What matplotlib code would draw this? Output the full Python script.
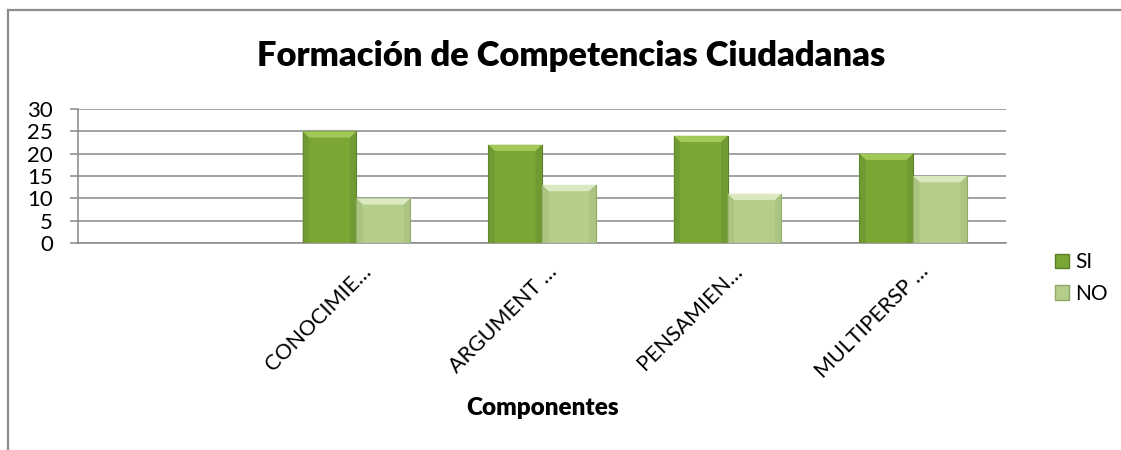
import numpy as np
import matplotlib
matplotlib.use("Agg")
import matplotlib.pyplot as plt
import matplotlib.transforms as mtransforms
from matplotlib.patches import Polygon, Patch
from matplotlib.lines import Line2D

# Datos
categorias = ["", "CONOCIMIE…", "ARGUMENT …", "PENSAMIEN…", "MULTIPERSP …"]
si = [np.nan, 25, 22, 24, 20]
no = [np.nan, 10, 13, 11, 15]
y_ticks = [0, 5, 10, 15, 20, 25, 30]

plt.rcParams['font.family'] = ['Lato', 'DejaVu Sans']

fig = plt.figure(figsize=(11.21, 4.5), dpi=100)
ax = fig.add_axes([78 / 1121, 1 - 243 / 450, 928 / 1121, 134 / 450])

x = np.arange(len(categorias))
w = 0.29
bars_si = ax.bar(x - w / 2, si, w, color="#7ba636", edgecolor="#5a7d27", linewidth=0.8, zorder=3)
bars_no = ax.bar(x + w / 2, no, w, color="#b4cd8a", edgecolor="#8fa868", linewidth=0.8, zorder=3)

# efecto bisel (solo decorativo)
bx, by = 0.035, 1.4
def bisel(rect, top, side):
    x0, y0 = rect.get_x(), rect.get_y()
    x1, y1 = x0 + rect.get_width(), y0 + rect.get_height()
    if np.isnan(y1):
        return
    ax.add_patch(Polygon([[x0, y1], [x1, y1], [x1 - bx, y1 - by], [x0 + bx, y1 - by]],
                         facecolor=top, edgecolor="none", zorder=4))
    ax.add_patch(Polygon([[x0, y0], [x0, y1], [x0 + bx, y1 - by], [x0 + bx, y0]],
                         facecolor=side, edgecolor="none", zorder=4, alpha=0.6))
    ax.add_patch(Polygon([[x1, y0], [x1, y1], [x1 - bx, y1 - by], [x1 - bx, y0]],
                         facecolor=side, edgecolor="none", zorder=4, alpha=0.6))

for r in bars_si:
    bisel(r, "#a2c857", "#6a9330")
for r in bars_no:
    bisel(r, "#dbe9c0", "#a5bf7d")

ax.set_xlim(-0.5, len(categorias) - 0.5)
ax.set_ylim(0, 30)
ax.set_yticks(y_ticks)
ax.yaxis.grid(True, color="#878787", linewidth=1.1, zorder=0)
ax.set_axisbelow(True)
for s in ["top", "right"]:
    ax.spines[s].set_visible(False)
ax.spines["left"].set_color("#878787")
ax.spines["bottom"].set_color("#878787")
ax.spines["left"].set_linewidth(1.1)
ax.spines["bottom"].set_linewidth(1.1)
ax.tick_params(axis="y", length=6, color="#878787", width=1.1, labelsize=16, pad=12)
ax.tick_params(axis="x", length=0, labelsize=15.5, pad=4)
ax.set_xticks(x[1:])
ax.set_xticklabels(categorias[1:], rotation=45, ha="right", rotation_mode="anchor")
desp = mtransforms.ScaledTranslation(0.05, -0.13, fig.dpi_scale_trans)
for lab in ax.get_xticklabels():
    lab.set_transform(lab.get_transform() + desp)

fig.text(571 / 1121, 1 - 56 / 450, "Formación de Competencias Ciudadanas",
         ha="center", va="center", fontsize=24.8, fontweight="heavy")
fig.text(543 / 1121, 1 - 408 / 450, "Componentes", ha="center", va="center",
         fontsize=17.5, fontweight="heavy")

handles = [Patch(facecolor="#7ba636", edgecolor="#5a7d27"),
           Patch(facecolor="#b4cd8a", edgecolor="#8fa868")]
fig.legend(handles, ["SI", "NO"], loc="center left", bbox_to_anchor=(1036 / 1121, 1 - 278 / 450),
           frameon=False, fontsize=15, handlelength=0.7, handleheight=0.7,
           handletextpad=0.3, labelspacing=0.55)

# borde del grafico
fig.add_artist(Line2D([8 / 1121, 1], [1 - 10 / 450, 1 - 10 / 450], color="#8c8c8c", linewidth=1.6))
fig.add_artist(Line2D([8 / 1121, 8 / 1121], [0, 1 - 10 / 450], color="#8c8c8c", linewidth=1.6))

fig.savefig("out.png", dpi=100)
